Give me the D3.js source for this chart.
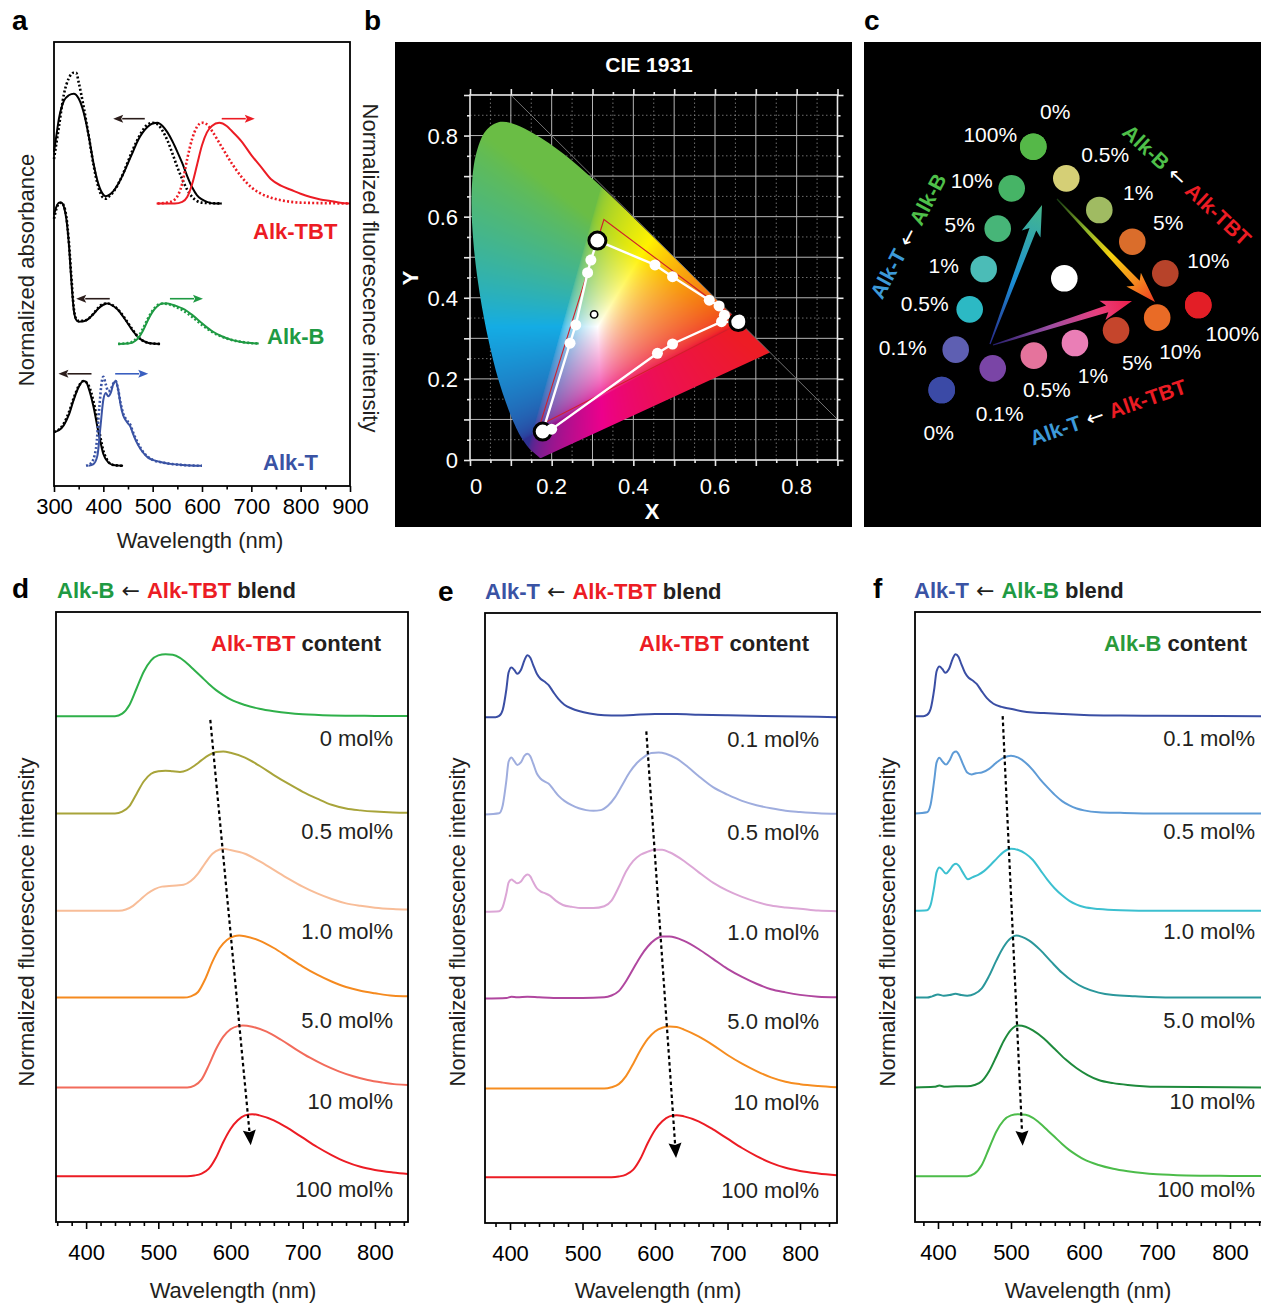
<!DOCTYPE html>
<html>
<head>
<meta charset="utf-8">
<script src="https://cdn.jsdelivr.net/npm/d3@7"></script>
<style>
  body { margin: 0; background: #fff; }
  svg text { font-family: "Liberation Sans", Arial, Helvetica, sans-serif; }
  svg tspan.arr { font-family: "DejaVu Sans", sans-serif; }
</style>
</head>
<body>
<svg id="fig" width="1261" height="1303"></svg>
<script>
// ================= DATA =================
// ---- panel a : absorbance (black) and emission (coloured), [nm, normalised value] ----
const aTickValues = [300, 400, 500, 600, 700, 800, 900];
const aGroups = ["Alk-TBT", "Alk-B", "Alk-T"];
const aBaselines = [3.5, 1.76, 0.25];
const aGroupScale = [1.0, 0.5, 1.05];

const aTbtAbs = [[300,0.64],[305,0.85],[310,1.05],[320,1.27],[330,1.34],[340,1.36],[350,1.3],[360,1.13],[370,0.85],[380,0.5],[390,0.24],[400,0.11],[405,0.09],[410,0.1],[420,0.15],[430,0.24],[440,0.36],[450,0.5],[460,0.64],[470,0.78],[480,0.88],[490,0.95],[500,0.99],[510,1.0],[520,0.96],[530,0.88],[540,0.77],[550,0.64],[560,0.5],[570,0.34],[580,0.2],[590,0.1],[600,0.05],[610,0.02],[625,0],[640,0]];
const aTbtAbsDot = [[300,0.55],[310,0.95],[320,1.35],[330,1.55],[340,1.62],[345,1.62],[350,1.5],[360,1.2],[370,0.85],[380,0.48],[390,0.2],[400,0.07],[405,0.06],[410,0.08],[420,0.14],[430,0.24],[440,0.37],[450,0.52],[460,0.67],[470,0.8],[480,0.91],[490,0.98],[500,1.0],[510,0.98],[520,0.9],[530,0.78],[540,0.62],[550,0.45],[560,0.3],[570,0.17],[580,0.08],[590,0.03],[600,0.01],[640,0]];
const aTbtEm = [[508,0],[545,0],[560,0.02],[570,0.08],[580,0.24],[590,0.48],[600,0.72],[610,0.88],[620,0.96],[635,1.0],[650,0.96],[660,0.9],[680,0.77],[700,0.6],[720,0.45],[740,0.3],[760,0.22],[780,0.17],[800,0.12],[820,0.08],[840,0.05],[860,0.03],[880,0.01],[900,0]];
const aTbtEmDot = [[510,0],[530,0.01],[545,0.05],[560,0.25],[570,0.55],[580,0.8],[590,0.95],[600,1.0],[610,0.98],[620,0.9],[640,0.7],[660,0.5],[680,0.33],[700,0.2],[720,0.12],[740,0.07],[760,0.04],[800,0.01],[900,0]];
const aBAbs = [[300,3.2],[305,3.4],[310,3.5],[315,3.5],[320,3.4],[325,3.1],[330,2.5],[335,1.6],[340,0.85],[345,0.6],[350,0.55],[360,0.56],[370,0.62],[380,0.74],[390,0.88],[400,0.97],[408,1.0],[420,0.94],[430,0.84],[440,0.68],[450,0.5],[460,0.32],[470,0.17],[480,0.08],[490,0.03],[500,0.01],[515,0]];
const aBAbsDot = [[300,3.1],[305,3.35],[310,3.48],[315,3.5],[320,3.42],[325,3.15],[330,2.55],[335,1.7],[340,0.9],[345,0.62],[350,0.57],[360,0.57],[370,0.63],[380,0.75],[390,0.9],[400,0.99],[410,1.0],[420,0.95],[430,0.85],[440,0.7],[450,0.52],[460,0.34],[470,0.18],[480,0.08],[490,0.03],[500,0.01],[515,0]];
const aBEm = [[430,0],[450,0.01],[460,0.04],[470,0.13],[480,0.32],[490,0.58],[500,0.8],[510,0.94],[520,1.0],[530,1.0],[540,0.97],[550,0.93],[560,0.88],[570,0.81],[580,0.72],[590,0.62],[600,0.51],[610,0.41],[620,0.32],[640,0.19],[660,0.1],[680,0.05],[700,0.02],[715,0.01]];
const aBEmDot = [[430,0],[450,0.02],[460,0.06],[470,0.17],[480,0.37],[490,0.62],[500,0.83],[510,0.96],[520,1.0],[530,0.99],[540,0.95],[550,0.9],[560,0.84],[570,0.76],[580,0.67],[590,0.57],[600,0.47],[610,0.38],[620,0.3],[640,0.18],[660,0.1],[680,0.05],[700,0.02],[715,0.01]];
const aTAbs = [[300,0.4],[310,0.42],[320,0.48],[330,0.6],[340,0.78],[350,0.93],[360,1.0],[365,0.99],[370,0.92],[380,0.7],[390,0.4],[400,0.14],[410,0.04],[420,0.01],[440,0]];
const aTAbsDot = [[300,0.4],[310,0.43],[320,0.5],[330,0.63],[340,0.8],[350,0.94],[360,1.0],[370,0.95],[380,0.76],[390,0.46],[400,0.18],[410,0.05],[420,0.01],[440,0]];
const aTEm = [[370,0],[380,0.02],[388,0.12],[394,0.45],[400,0.78],[405,0.86],[410,0.82],[415,0.86],[420,0.96],[425,1.0],[430,0.9],[435,0.72],[440,0.6],[445,0.54],[450,0.5],[455,0.46],[460,0.38],[470,0.25],[480,0.16],[490,0.1],[500,0.07],[520,0.04],[540,0.02],[560,0.01],[600,0]];
const aTEmDot = [[365,0],[375,0.03],[385,0.2],[392,0.7],[397,1.0],[400,1.05],[405,0.96],[410,0.88],[415,0.9],[420,0.97],[425,1.0],[430,0.9],[435,0.74],[440,0.62],[445,0.56],[450,0.52],[455,0.48],[460,0.4],[470,0.27],[480,0.17],[490,0.11],[500,0.07],[520,0.04],[540,0.02],[560,0.01],[600,0]];
// direction arrows [fromNm, toNm, level]
const aArrows = [[484,420,4.55],[640,707,4.55],[413,345,2.32],[535,602,2.32],[376,309,1.39],[424,491,1.39]];

// ---- panel b : CIE 1931 ----
const cieTicks = [0, 0.2, 0.4, 0.6, 0.8];
const locus = [[380,0.1741,0.0050],[400,0.1733,0.0048],[420,0.1714,0.0051],[440,0.1644,0.0109],[450,0.1566,0.0177],[460,0.1440,0.0297],[470,0.1241,0.0578],[475,0.1096,0.0868],[480,0.0913,0.1327],[485,0.0687,0.2007],[490,0.0454,0.2950],[495,0.0235,0.4127],[500,0.0082,0.5384],[505,0.0039,0.6548],[510,0.0139,0.7502],[515,0.0389,0.8120],[520,0.0743,0.8338],[525,0.1142,0.8262],[530,0.1547,0.8059],[535,0.1929,0.7816],[540,0.2296,0.7543],[545,0.2658,0.7243],[550,0.3016,0.6923],[555,0.3373,0.6589],[560,0.3731,0.6245],[565,0.4087,0.5896],[570,0.4441,0.5547],[575,0.4788,0.5202],[580,0.5125,0.4866],[585,0.5448,0.4544],[590,0.5752,0.4242],[595,0.6029,0.3965],[600,0.6270,0.3725],[610,0.6658,0.3340],[620,0.6915,0.3083],[630,0.7079,0.2920],[640,0.7190,0.2809],[650,0.7260,0.2740],[700,0.7347,0.2653]];
const cieB = [0.312, 0.541], cieT = [0.178, 0.070], cieTBT = [0.657, 0.340];
const cieBtoT = [[0.296,0.493],[0.288,0.462],[0.259,0.333],[0.245,0.288]];
const cieTtoTBT = [[0.200,0.076],[0.459,0.263],[0.496,0.286],[0.616,0.341]];
const cieBtoTBT = [[0.453,0.481],[0.496,0.452],[0.586,0.394],[0.610,0.380],[0.623,0.357]];
const cieExtra = [[0.660,0.345]];
const cieWhite = [0.304, 0.359];
const cieRefTri = [[0.328,0.593],[0.665,0.339],[0.171,0.086]];

// ---- panel c : emission colour dots ----
const cBtoT = { labels: ["100%","10%","5%","1%","0.5%","0.1%","0%"],
  colors: ["#55b848","#46b466","#47b578","#4bbcb7","#2cb9c4","#5e5fb2","#3b4aa6"],
  off: [[-43,-12],[-40,-8],[-38,-4],[-40,-4],[-45,-6],[-53,-2],null] };
const cBtoTBT = { labels: ["0%","0.5%","1%","5%","10%","100%"],
  colors: ["#55b848","#d5cf76","#a0bb62","#da6d2b","#b7432a","#e31e26"],
  off: [[22,-35],[39,-24],[39,-18],[36,-19],[43,-13],[34,28]] };
const cTtoTBT = { labels: ["0%","0.1%","0.5%","1%","5%","10%","100%"],
  colors: ["#3b4aa6","#7a45a6","#e5739c","#ea7eb6","#c5452c","#e96b26","#e31e26"],
  off: [[-3,42],[7,45],[13,34],[18,32],[21,32],[23,34],null] };

// ---- panels d, e, f : blend emission spectra, [nm, normalised intensity] ----
const stackOffsets = [8.16, 6.59, 5.02, 3.62, 2.17, 0.74];
const labelLevels = [7.68, 6.18, 4.57, 3.13, 1.83, 0.4];
const dLabels = ["0 mol%","0.5 mol%","1.0 mol%","5.0 mol%","10 mol%","100 mol%"];
const efLabels = ["0.1 mol%","0.5 mol%","1.0 mol%","5.0 mol%","10 mol%","100 mol%"];
const wlTicks = [400, 500, 600, 700, 800];

const bEm = [[358,0],[440,0],[450,0.04],[460,0.18],[470,0.45],[480,0.72],[490,0.9],[500,0.98],[510,1.0],[520,0.99],[530,0.94],[540,0.85],[550,0.74],[560,0.63],[570,0.52],[580,0.42],[590,0.34],[600,0.27],[620,0.18],[640,0.12],[660,0.08],[680,0.05],[700,0.03],[740,0.012],[800,0.004],[851,0]];
const tbtEm = [[358,0],[540,0],[550,0.01],[560,0.04],[570,0.12],[580,0.3],[590,0.55],[600,0.76],[610,0.9],[620,0.98],[630,1.0],[640,0.98],[660,0.9],[680,0.77],[700,0.62],[720,0.47],[740,0.34],[760,0.23],[780,0.15],[800,0.1],[825,0.06],[851,0.03]];
const dBlend05 = [[358,0],[440,0],[450,0.03],[460,0.12],[470,0.32],[480,0.52],[490,0.64],[500,0.68],[510,0.69],[520,0.68],[530,0.67],[540,0.7],[550,0.77],[560,0.86],[570,0.94],[580,0.99],[590,1.0],[600,0.98],[620,0.9],[640,0.77],[660,0.62],[680,0.48],[700,0.35],[720,0.24],[740,0.14],[760,0.08],[780,0.05],[800,0.03],[825,0.015],[851,0.01]];
const dBlend1 = [[358,0],[445,0],[455,0.02],[465,0.08],[475,0.18],[485,0.28],[495,0.35],[505,0.39],[515,0.4],[525,0.41],[535,0.42],[545,0.48],[555,0.6],[565,0.77],[575,0.92],[585,0.99],[590,1.0],[600,0.98],[620,0.92],[640,0.8],[660,0.66],[680,0.52],[700,0.39],[720,0.28],[740,0.19],[760,0.12],[780,0.08],[800,0.05],[825,0.03],[851,0.02]];
const dBlend5 = [[358,0],[535,0],[545,0.02],[555,0.09],[565,0.3],[575,0.58],[585,0.8],[595,0.93],[605,0.99],[612,1.0],[620,0.99],[640,0.92],[660,0.8],[680,0.65],[700,0.5],[720,0.37],[740,0.26],[760,0.17],[780,0.11],[800,0.07],[825,0.03],[851,0.02]];
const dBlend10 = [[358,0],[540,0],[550,0.03],[560,0.13],[570,0.36],[580,0.62],[590,0.82],[600,0.94],[610,0.99],[617,1.0],[630,0.98],[650,0.9],[670,0.77],[690,0.62],[710,0.48],[730,0.36],[750,0.26],[770,0.18],[790,0.12],[810,0.08],[830,0.05],[851,0.04]];

const eBlend01 = [[365,0],[380,0],[385,0.02],[390,0.12],[395,0.45],[398,0.72],[402,0.8],[406,0.76],[410,0.7],[415,0.76],[420,0.92],[424,1.0],[428,0.96],[432,0.84],[437,0.7],[442,0.62],[448,0.57],[453,0.52],[460,0.4],[467,0.29],[475,0.2],[485,0.14],[495,0.1],[510,0.06],[530,0.03],[550,0.025],[570,0.035],[600,0.05],[630,0.05],[660,0.04],[700,0.03],[750,0.02],[800,0.01],[851,0]];
const eBlend05 = [[365,0],[385,0.02],[390,0.15],[395,0.55],[398,0.85],[402,0.92],[406,0.86],[410,0.8],[415,0.84],[420,0.95],[424,0.98],[428,0.94],[432,0.82],[437,0.66],[442,0.58],[448,0.53],[453,0.5],[460,0.4],[467,0.3],[475,0.22],[485,0.15],[495,0.1],[505,0.07],[515,0.06],[525,0.07],[535,0.14],[545,0.28],[555,0.48],[565,0.68],[575,0.83],[585,0.93],[595,0.99],[605,1.0],[615,0.98],[630,0.9],[645,0.77],[660,0.62],[680,0.44],[700,0.32],[720,0.22],[740,0.15],[760,0.1],[780,0.06],[800,0.04],[825,0.02],[851,0.01]];
const eBlend1 = [[365,0],[385,0.01],[390,0.08],[395,0.3],[398,0.47],[402,0.52],[406,0.49],[410,0.46],[415,0.49],[420,0.57],[424,0.6],[428,0.57],[432,0.48],[437,0.38],[442,0.33],[448,0.3],[455,0.26],[463,0.18],[473,0.11],[485,0.08],[500,0.06],[515,0.06],[530,0.09],[540,0.18],[550,0.4],[560,0.65],[570,0.82],[580,0.92],[590,0.97],[600,1.0],[610,1.0],[620,0.96],[640,0.82],[660,0.64],[680,0.47],[700,0.34],[720,0.24],[740,0.16],[760,0.1],[780,0.07],[800,0.05],[825,0.02],[851,0.01]];
const eBlend5 = [[365,0],[395,0.01],[402,0.03],[410,0.02],[424,0.03],[440,0.02],[460,0.01],[500,0.01],[530,0.02],[540,0.05],[550,0.12],[560,0.28],[570,0.48],[580,0.68],[590,0.84],[600,0.95],[610,1.0],[620,1.0],[640,0.93],[660,0.8],[680,0.64],[700,0.48],[720,0.35],[740,0.24],[760,0.15],[780,0.1],[800,0.06],[825,0.03],[851,0.02]];
const eBlend10 = [[365,0],[530,0],[540,0.02],[550,0.07],[560,0.2],[570,0.4],[580,0.62],[590,0.8],[600,0.92],[610,0.98],[620,1.0],[630,0.99],[640,0.95],[660,0.84],[680,0.7],[700,0.54],[720,0.4],[740,0.28],[760,0.18],[780,0.11],[800,0.07],[825,0.04],[851,0.02]];

const fBlend01 = [[368,0],[380,0],[385,0.02],[390,0.12],[395,0.45],[398,0.72],[402,0.8],[406,0.76],[410,0.7],[415,0.76],[420,0.92],[424,1.0],[428,0.96],[432,0.84],[437,0.7],[442,0.62],[448,0.57],[453,0.52],[460,0.4],[467,0.29],[476,0.2],[487,0.15],[499,0.12],[515,0.08],[530,0.06],[545,0.05],[570,0.035],[600,0.02],[650,0.01],[700,0.005],[851,0]];
const fBlend05 = [[368,0],[385,0.02],[390,0.15],[395,0.55],[398,0.82],[402,0.9],[406,0.84],[411,0.79],[416,0.86],[421,0.98],[425,1.0],[429,0.94],[434,0.8],[440,0.66],[446,0.63],[452,0.65],[460,0.66],[470,0.72],[480,0.82],[490,0.9],[500,0.93],[510,0.9],[520,0.82],[530,0.7],[540,0.55],[550,0.42],[560,0.3],[570,0.2],[580,0.13],[590,0.08],[600,0.05],[620,0.02],[650,0.01],[700,0],[851,0]];
const fBlend1 = [[368,0],[385,0.01],[390,0.1],[395,0.4],[398,0.62],[402,0.7],[406,0.66],[411,0.6],[416,0.66],[421,0.74],[425,0.76],[429,0.72],[434,0.62],[441,0.51],[447,0.54],[455,0.58],[463,0.64],[472,0.74],[481,0.85],[490,0.95],[500,1.0],[510,0.98],[520,0.92],[530,0.82],[540,0.66],[550,0.5],[560,0.36],[570,0.25],[580,0.16],[590,0.1],[600,0.06],[620,0.03],[650,0.01],[700,0],[851,0]];
const fBlend5 = [[368,0],[385,0],[392,0.02],[400,0.05],[408,0.03],[416,0.04],[424,0.06],[432,0.04],[440,0.03],[450,0.06],[460,0.15],[470,0.35],[480,0.6],[490,0.82],[500,0.96],[507,1.0],[515,0.98],[525,0.92],[540,0.77],[555,0.58],[570,0.4],[585,0.26],[600,0.16],[620,0.08],[640,0.04],[670,0.02],[720,0],[851,0]];
const fBlend10 = [[368,0],[395,0.01],[402,0.03],[410,0.01],[425,0.02],[440,0.02],[450,0.04],[460,0.1],[470,0.26],[480,0.5],[490,0.75],[500,0.93],[510,1.0],[520,0.98],[530,0.92],[545,0.79],[560,0.62],[575,0.45],[590,0.31],[605,0.2],[620,0.12],[640,0.07],[660,0.04],[700,0.01],[851,0]];

// ================= DRAWING =================
const svg = d3.select("#fig");
const INK = "#231f20", RED = "#ec1c24", GRN = "#1f9a43", BLU = "#3a53a4";

function label(g, x, y, s, o = {}) {
  const t = g.append("text").attr("x", x).attr("y", y).text(s)
    .attr("font-size", o.size || 22).attr("fill", o.fill || INK)
    .attr("font-weight", o.bold ? "bold" : "normal")
    .attr("text-anchor", o.anchor || "start");
  if (o.dy) t.attr("dy", o.dy);
  if (o.rotate) t.attr("transform", `rotate(${o.rotate},${x},${y})`);
  return t;
}
// text made of coloured pieces; a piece with weight "normal" is the thin arrow glyph
function rich(g, x, y, parts, o = {}) {
  const t = g.append("text").attr("x", x).attr("y", y)
    .attr("font-size", o.size || 22).attr("font-weight", "bold")
    .attr("text-anchor", o.anchor || "start");
  parts.forEach(p => {
    const ts = t.append("tspan").attr("fill", p[1]).attr("font-weight", p[2] || "bold").text(p[0]);
    if (p[2] === "normal") ts.attr("class", "arr");
  });
  if (o.dy) t.attr("dy", o.dy);
  if (o.rotate) t.attr("transform", `rotate(${o.rotate},${x},${y})`);
  return t;
}
// straight arrow with filled head, optional dash on the shaft
function arrow(g, x1, y1, x2, y2, color, len, half, width, dash) {
  const a = Math.atan2(y2 - y1, x2 - x1), c = Math.cos(a), s = Math.sin(a);
  const hx = x2 - len * c, hy = y2 - len * s;
  g.append("line").attr("x1", x1).attr("y1", y1).attr("x2", hx + 1 * c).attr("y2", hy + 1 * s)
    .attr("stroke", color).attr("stroke-width", width).attr("stroke-dasharray", dash || null);
  g.append("path").attr("fill", color)
    .attr("d", `M${x2},${y2}L${hx - half * s},${hy + half * c}L${hx + 2 * c},${hy + 2 * s}L${hx + half * s},${hy - half * c}Z`);
}
function styleAxis(sel, color, size) {
  sel.attr("font-family", null).attr("font-size", size);
  sel.select(".domain").remove();
  sel.selectAll("line").attr("stroke", color).attr("stroke-width", 1.6);
  sel.selectAll("text").attr("fill", color);
}

// panel letters
[["a", 12, 30], ["b", 364, 30], ["c", 864, 30], ["d", 12, 598], ["e", 438, 601], ["f", 873, 598]]
  .forEach(l => label(svg, l[1], l[2], l[0], { size: 28, bold: true, fill: "#000" }));

// ---------- panel a ----------
{
  const g = svg.append("g");
  const x = d3.scaleLinear().domain([300, 900]).range([54, 350]);
  const y = d3.scaleLinear().domain([0, 5.5]).range([486, 42]);
  const series = [
    [aTbtAbsDot, 0, "#000", true], [aTbtAbs, 0, "#000", false], [aTbtEmDot, 0, RED, true], [aTbtEm, 0, RED, false],
    [aBAbsDot, 1, "#000", true], [aBAbs, 1, "#000", false], [aBEmDot, 1, GRN, true], [aBEm, 1, GRN, false],
    [aTAbsDot, 2, "#000", true], [aTAbs, 2, "#000", false], [aTEmDot, 2, BLU, true], [aTEm, 2, BLU, false]
  ];
  series.forEach(([data, gi, color, dotted]) => {
    const line = d3.line().x(d => x(d[0])).y(d => y(aBaselines[gi] + aGroupScale[gi] * d[1])).curve(d3.curveMonotoneX);
    g.append("path").datum(data).attr("d", line).attr("fill", "none").attr("stroke", color)
      .attr("stroke-width", dotted ? 2.6 : 2).attr("stroke-dasharray", dotted ? "2,2.2" : null);
  });
  const arrowColors = ["#2b1d1b", RED, "#2b1d1b", GRN, "#2b1d1b", "#3a5fc0"];
  aArrows.forEach((a, i) => arrow(g, x(a[0]), y(a[2]), x(a[1]), y(a[2]), arrowColors[i], 10, 4, 1.6));
  label(g, 253, 239, "Alk-TBT", { bold: true, fill: RED });
  label(g, 267, 344, "Alk-B", { bold: true, fill: GRN });
  label(g, 263, 470, "Alk-T", { bold: true, fill: BLU });

  g.append("rect").attr("x", 54).attr("y", 42).attr("width", 296).attr("height", 444)
    .attr("fill", "none").attr("stroke", "#000").attr("stroke-width", 1.8);
  const ax1 = g.append("g").attr("transform", "translate(0,486)")
    .call(d3.axisBottom(x).tickValues(aTickValues).tickSize(6).tickPadding(6).tickFormat(d3.format("d")));
  styleAxis(ax1, "#000", 22);
  const ax2 = g.append("g").attr("transform", "translate(0,486)")
    .call(d3.axisBottom(x).tickValues(d3.range(350, 900, 100)).tickSize(3.5).tickFormat(""));
  styleAxis(ax2, "#000", 22);
  label(g, 200, 548, "Wavelength (nm)", { anchor: "middle" });
  label(g, 34, 270, "Normalized absorbance", { anchor: "middle", rotate: -90 });
  label(g, 363, 268, "Normalized fluorescence intensity", { anchor: "middle", rotate: 90 });
}

// ---------- panel b ----------
{
  const g = svg.append("g");
  g.append("rect").attr("x", 395).attr("y", 42).attr("width", 457).attr("height", 485).attr("fill", "#000");
  const x = d3.scaleLinear().domain([0, 0.9]).range([470, 837.5]);
  const y = d3.scaleLinear().domain([0, 0.9]).range([460, 95]);

  // grid
  d3.range(0.05, 0.9, 0.1).forEach(v => {
    g.append("line").attr("x1", x(v)).attr("x2", x(v)).attr("y1", y(0)).attr("y2", y(0.9))
      .attr("stroke", "#8a8a8a").attr("stroke-width", 0.8).attr("stroke-dasharray", "1.5,2.5");
    g.append("line").attr("y1", y(v)).attr("y2", y(v)).attr("x1", x(0)).attr("x2", x(0.9))
      .attr("stroke", "#8a8a8a").attr("stroke-width", 0.8).attr("stroke-dasharray", "1.5,2.5");
  });
  d3.range(0.1, 0.85, 0.1).forEach(v => {
    g.append("line").attr("x1", x(v)).attr("x2", x(v)).attr("y1", y(0)).attr("y2", y(0.9))
      .attr("stroke", "#b4b4b4").attr("stroke-width", 1);
    g.append("line").attr("y1", y(v)).attr("y2", y(v)).attr("x1", x(0)).attr("x2", x(0.9))
      .attr("stroke", "#b4b4b4").attr("stroke-width", 1);
  });

  // spectral locus
  const locusLine = d3.line().x(d => x(d[1])).y(d => y(d[2])).curve(d3.curveCatmullRom);
  const locusD = locusLine(locus) + "Z";
  const defs = svg.append("defs");
  defs.append("clipPath").attr("id", "locusClip").append("path").attr("d", locusD);

  // chromaticity colours: xy -> XYZ -> sRGB, then a print-like gamut mapping through the cube corners
  const corners = { k: [35, 31, 32], r: [237, 28, 36], g: [106, 189, 69], b: [46, 49, 146],
                    c: [20, 172, 228], m: [236, 0, 140], y: [255, 242, 0], w: [255, 255, 255] };
  const gam = v => v <= 0.0031308 ? 12.92 * v : 1.055 * Math.pow(v, 1 / 2.4) - 0.055;
  const x0 = Math.floor(x(0)), y0 = Math.floor(y(0.86)), gw = Math.ceil(x(0.76)) - x0, gh = Math.ceil(y(0)) - y0;
  const cv = document.createElement("canvas"); cv.width = gw; cv.height = gh;
  const ctx = cv.getContext("2d"); const img = ctx.createImageData(gw, gh);
  for (let j = 0; j < gh; j++) for (let i = 0; i < gw; i++) {
    const cx = x.invert(x0 + i + 0.5), cy = y.invert(y0 + j + 0.5);
    if (cy < 0.001) continue;
    const X = cx / cy, Y = 1, Z = (1 - cx - cy) / cy;
    let r = 3.2406 * X - 1.5372 * Y - 0.4986 * Z;
    let gg = -0.9689 * X + 1.8758 * Y + 0.0415 * Z;
    let b = 0.0557 * X - 0.2040 * Y + 1.0570 * Z;
    r = Math.max(r, 0); gg = Math.max(gg, 0); b = Math.max(b, 0);
    const m = Math.max(r, gg, b) || 1;
    r = gam(r / m); gg = gam(gg / m); b = gam(Math.pow(b / m, 1.6));
    const k = 4 * (j * gw + i);
    for (let ch = 0; ch < 3; ch++) {
      const c00 = corners.k[ch] * (1 - r) + corners.r[ch] * r;
      const c10 = corners.g[ch] * (1 - r) + corners.y[ch] * r;
      const c01 = corners.b[ch] * (1 - r) + corners.m[ch] * r;
      const c11 = corners.c[ch] * (1 - r) + corners.w[ch] * r;
      const c0 = c00 * (1 - gg) + c10 * gg, c1 = c01 * (1 - gg) + c11 * gg;
      img.data[k + ch] = c0 * (1 - b) + c1 * b;
    }
    img.data[k + 3] = 255;
  }
  ctx.putImageData(img, 0, 0);
  g.append("image").attr("x", x0).attr("y", y0).attr("width", gw).attr("height", gh)
    .attr("preserveAspectRatio", "none").attr("href", cv.toDataURL()).attr("clip-path", "url(#locusClip)");

  g.append("line").attr("x1", x(0.1)).attr("y1", y(0.9)).attr("x2", x(0.9)).attr("y2", y(0.1))
    .attr("stroke", "#707070").attr("stroke-width", 1);

  // frame and ticks
  g.append("rect").attr("x", x(0)).attr("y", y(0.9)).attr("width", x(0.9) - x(0)).attr("height", y(0) - y(0.9))
    .attr("fill", "none").attr("stroke", "#e8e8e8").attr("stroke-width", 1.6);
  const major = d3.range(0, 0.91, 0.1), minor = d3.range(0.05, 0.9, 0.1);
  const axes = [
    [d3.axisBottom(x), `translate(0,${y(0)})`], [d3.axisTop(x), `translate(0,${y(0.9)})`],
    [d3.axisLeft(y), `translate(${x(0)},0)`], [d3.axisRight(y), `translate(${x(0.9)},0)`]
  ];
  axes.forEach(([ax, tr]) => {
    const a1 = g.append("g").attr("transform", tr).call(ax.tickValues(major).tickSize(6).tickFormat(""));
    styleAxis(a1, "#e8e8e8", 22);
    const a2 = g.append("g").attr("transform", tr).call(ax.tickValues(minor).tickSize(3).tickFormat(""));
    styleAxis(a2, "#e8e8e8", 22);
  });
  cieTicks.forEach(v => {
    label(g, x(v) + (v === 0 ? 6 : 0), 494, v === 0 ? "0" : v.toFixed(1), { fill: "#fff", anchor: "middle" });
    label(g, 458, y(v) + 8, v === 0 ? "0" : v.toFixed(1), { fill: "#fff", anchor: "end" });
  });
  label(g, 652, 519, "X", { fill: "#fff", bold: true, anchor: "middle" });
  label(g, 418, 278, "Y", { fill: "#fff", bold: true, anchor: "middle", rotate: -90 });
  label(g, 649, 72, "CIE 1931", { fill: "#fff", bold: true, anchor: "middle", size: 21 });

  // reference triangle and blend paths
  const pl = d3.line().x(d => x(d[0])).y(d => y(d[1]));
  g.append("path").attr("d", pl(cieRefTri) + "Z").attr("fill", "none").attr("stroke", "#d0202a").attr("stroke-width", 1.1);
  [[cieB, ...cieBtoT, cieT], [cieT, ...cieTtoTBT, cieTBT], [cieB, ...cieBtoTBT, cieTBT]].forEach(p =>
    g.append("path").attr("d", pl(p)).attr("fill", "none").attr("stroke", "#fff").attr("stroke-width", 2.4));
  [cieB, cieT, cieTBT].forEach(p =>
    g.append("circle").attr("cx", x(p[0])).attr("cy", y(p[1])).attr("r", 8.5)
      .attr("fill", "#fff").attr("stroke", "#000").attr("stroke-width", 3));
  [...cieBtoT, ...cieTtoTBT, ...cieBtoTBT, ...cieExtra].forEach(p =>
    g.append("circle").attr("cx", x(p[0])).attr("cy", y(p[1])).attr("r", 5.5).attr("fill", "#fff"));
  g.append("circle").attr("cx", x(cieWhite[0])).attr("cy", y(cieWhite[1])).attr("r", 3.6)
    .attr("fill", "#fff").attr("stroke", "#000").attr("stroke-width", 1.6);
}

// ---------- panel c ----------
{
  const g = svg.append("g");
  g.append("rect").attr("x", 864).attr("y", 42).attr("width", 397).attr("height", 485).attr("fill", "#000");
  const A = { B: [1033.3, 146.7], T: [941.7, 390], TBT: [1198.3, 305], W: [1064.3, 278.3] };
  const sides = [
    { set: cBtoT, p0: [1025.7, 148], p1: A.T, first: A.B },
    { set: cBtoTBT, p0: A.B, p1: A.TBT },
    { set: cTtoTBT, p0: [951.6, 381], p1: A.TBT, first: A.T }
  ];
  const defs = svg.append("defs");
  // gradient arrows
  const grads = [
    { tail: [990, 344], tip: [1042, 205], stops: [[0, "#28288a"], [0.45, "#1b8fd6"], [1, "#45b88c"]] },
    { tail: [1057, 199], tip: [1155, 302], stops: [[0, "#163a12"], [0.3, "#8db52a"], [0.55, "#f7d20e"], [0.8, "#f68a1f"], [1, "#ee3a23"]] },
    { tail: [993, 345], tip: [1132, 301], stops: [[0, "#241f6e"], [0.4, "#9a4ea3"], [0.75, "#e8407f"], [1, "#ee1f4a"]] }
  ];
  grads.forEach((a, i) => {
    const lg = defs.append("linearGradient").attr("id", "cg" + i).attr("gradientUnits", "userSpaceOnUse")
      .attr("x1", a.tail[0]).attr("y1", a.tail[1]).attr("x2", a.tip[0]).attr("y2", a.tip[1]);
    a.stops.forEach(s => lg.append("stop").attr("offset", s[0]).attr("stop-color", s[1]));
    const dx = a.tip[0] - a.tail[0], dy = a.tip[1] - a.tail[1], L = Math.hypot(dx, dy);
    const ux = dx / L, uy = dy / L, nx = -uy, ny = ux;
    const hb = [a.tip[0] - ux * 26, a.tip[1] - uy * 26];
    const pts = [
      [a.tail[0] + nx * 0.6, a.tail[1] + ny * 0.6], [hb[0] + nx * 3.6, hb[1] + ny * 3.6],
      [hb[0] - ux * 5 + nx * 10, hb[1] - uy * 5 + ny * 10], a.tip,
      [hb[0] - ux * 5 - nx * 10, hb[1] - uy * 5 - ny * 10], [hb[0] - nx * 3.6, hb[1] - ny * 3.6],
      [a.tail[0] - nx * 0.6, a.tail[1] - ny * 0.6]
    ];
    g.append("path").attr("d", d3.line()(pts) + "Z").attr("fill", `url(#cg${i})`);
  });

  sides.forEach(sd => {
    const n = sd.set.labels.length;
    const px = d3.scaleLinear().domain([0, n - 1]).range([sd.p0[0], sd.p1[0]]);
    const py = d3.scaleLinear().domain([0, n - 1]).range([sd.p0[1], sd.p1[1]]);
    const pts = d3.range(n).map(k => (k === 0 && sd.first) ? sd.first : [px(k), py(k)]);
    pts.forEach((p, k) => g.append("circle").attr("cx", p[0]).attr("cy", p[1]).attr("r", 13.3).attr("fill", sd.set.colors[k]));
    pts.forEach((p, k) => {
      const o = sd.set.off[k];
      if (o) label(g, p[0] + o[0], p[1] + o[1], sd.set.labels[k], { fill: "#fff", anchor: "middle", dy: "0.36em", size: 21 });
    });
  });
  g.append("circle").attr("cx", A.W[0]).attr("cy", A.W[1]).attr("r", 13.3).attr("fill", "#fff");

  const cG = "#4fc04a", cB = "#3d9ad8", cR = "#ec1c24";
  rich(g, 1187, 185, [["Alk-B", cG], [" ← ", "#fff", "normal"], ["Alk-TBT", cR]], { anchor: "middle", rotate: 43, dy: "0.36em", size: 21 });
  rich(g, 908, 236, [["Alk-T", cB], [" ← ", "#fff", "normal"], ["Alk-B", cG]], { anchor: "middle", rotate: -62, dy: "0.36em", size: 21 });
  rich(g, 1108, 412, [["Alk-T", cB], [" ← ", "#fff", "normal"], ["Alk-TBT", cR]], { anchor: "middle", rotate: -19, dy: "0.36em", size: 21 });
}

// ---------- panels d, e, f ----------
const panels = [
  { left: 56, bottom: 1222, domain: [358.3, 845.8],
    header: [["Alk-B", GRN], [" ← ", INK, "normal"], ["Alk-TBT", RED], [" blend", INK]], headerX: 57, headerY: 598,
    title: [["Alk-TBT", RED], [" content", INK]], titleX: 381,
    series: [bEm, dBlend05, dBlend1, dBlend5, dBlend10, tbtEm],
    colors: ["#2fb04a", "#a8a43a", "#f8bd98", "#f58a1f", "#f26b5b", "#ec1c24"],
    labels: dLabels, labelX: 393, arrow: [[572, 8.1], [628, 1.24]], ylabelX: 34, xlabelX: 233 },
  { left: 485, bottom: 1223, domain: [365.5, 851],
    header: [["Alk-T", BLU], [" ← ", INK, "normal"], ["Alk-TBT", RED], [" blend", INK]], headerX: 485, headerY: 599,
    title: [["Alk-TBT", RED], [" content", INK]], titleX: 809,
    series: [eBlend01, eBlend05, eBlend1, eBlend5, eBlend10, tbtEm],
    colors: ["#3a4ea4", "#9fadde", "#dca6d6", "#b0479f", "#f68d20", "#ec1c24"],
    labels: efLabels, labelX: 819, arrow: [[588, 7.93], [629, 1.05]], ylabelX: 465, xlabelX: 658 },
  { left: 915, bottom: 1222, domain: [368.5, 850.7],
    header: [["Alk-T", BLU], [" ← ", INK, "normal"], ["Alk-B", GRN], [" blend", INK]], headerX: 914, headerY: 598,
    title: [["Alk-B", "#2a9a3a"], [" content", INK]], titleX: 1247,
    series: [fBlend01, fBlend05, fBlend1, fBlend5, fBlend10, bEm],
    colors: ["#3a4ea4", "#5e9bd6", "#3cc0d0", "#2a979b", "#1e8a3c", "#4cbc4a"],
    labels: efLabels, labelX: 1255, arrow: [[488.6, 8.16], [516, 1.23]], ylabelX: 895, xlabelX: 1088 }
];

panels.forEach((p, pi) => {
  const g = svg.append("g");
  const W = 352, H = 610;
  const x = d3.scaleLinear().domain(p.domain).range([p.left, p.left + W]);
  const y = d3.scaleLinear().domain([0, 9.84]).range([p.bottom, p.bottom - H]);
  svg.append("defs").append("clipPath").attr("id", "clip" + pi).append("rect")
    .attr("x", p.left).attr("y", p.bottom - H).attr("width", W).attr("height", H);
  const plot = g.append("g").attr("clip-path", `url(#clip${pi})`);
  p.series.forEach((s, i) => {
    const line = d3.line().x(d => x(d[0])).y(d => y(stackOffsets[i] + d[1])).curve(d3.curveMonotoneX);
    plot.append("path").datum(s).attr("d", line).attr("fill", "none").attr("stroke", p.colors[i]).attr("stroke-width", 2);
    label(g, p.labelX, y(labelLevels[i]), p.labels[i], { anchor: "end", size: 22 });
  });
  const a = p.arrow;
  arrow(g, x(a[0][0]), y(a[0][1]), x(a[1][0]), y(a[1][1]), "#000", 15, 6.5, 2.2, "3.5,3");
  rich(g, p.titleX, 651, p.title, { anchor: "end" });
  rich(g, p.headerX, p.headerY, p.header);

  g.append("rect").attr("x", p.left).attr("y", p.bottom - H).attr("width", W).attr("height", H)
    .attr("fill", "none").attr("stroke", "#000").attr("stroke-width", 1.8);
  const ax1 = g.append("g").attr("transform", `translate(0,${p.bottom})`)
    .call(d3.axisBottom(x).tickValues(wlTicks).tickSize(7).tickPadding(15).tickFormat(d3.format("d")));
  styleAxis(ax1, "#000", 22);
  const minorT = d3.range(360, 860, 20).filter(v => v % 100 !== 0 && v >= p.domain[0] && v <= p.domain[1]);
  const ax2 = g.append("g").attr("transform", `translate(0,${p.bottom})`)
    .call(d3.axisBottom(x).tickValues(minorT).tickSize(4).tickFormat(""));
  styleAxis(ax2, "#000", 22);
  label(g, p.xlabelX, 1298, "Wavelength (nm)", { anchor: "middle" });
  label(g, p.ylabelX, 922, "Normalized fluorescence intensity", { anchor: "middle", rotate: -90 });
});
</script>
</body>
</html>
